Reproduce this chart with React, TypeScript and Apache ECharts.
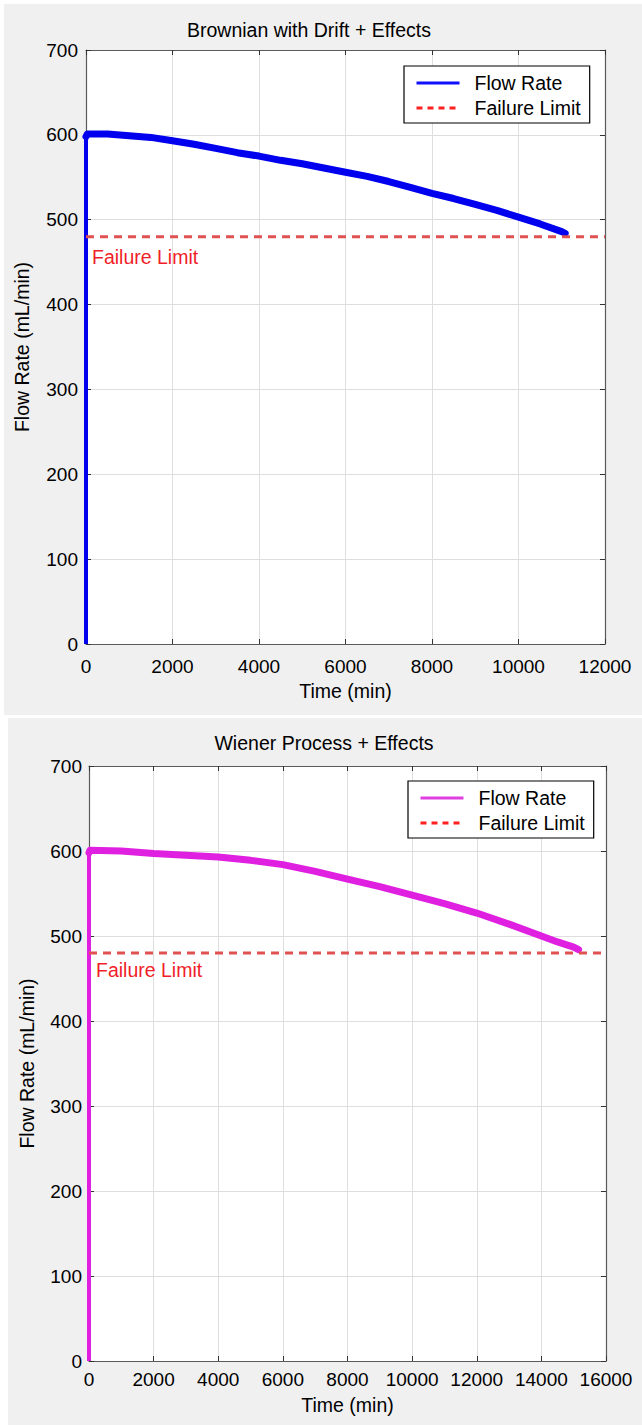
import React, { useEffect, useRef } from 'react';
import * as echarts from 'echarts';

// ---- data ----
const brownTitle = 'Brownian with Drift + Effects';
const wienerTitle = 'Wiener Process + Effects';
const brownTime = [0, 0, 30, 500, 1000, 1500, 2000, 2500, 3000, 3500, 4000, 4500, 5000, 5500, 6000, 6500, 7000, 7500, 8000, 8500, 9000, 9500, 10000, 10500, 11000, 11080];
const brownFlow = [0, 598, 601, 601, 599, 597, 593, 589, 584, 579, 575, 570, 566, 561, 556, 551, 545, 538, 531, 525, 518, 511, 503, 495, 486, 484];
const wienerTime = [0, 0, 30, 1000, 2000, 3000, 4000, 5000, 6000, 7000, 8000, 9000, 10000, 11000, 12000, 13000, 14000, 14500, 15000, 15150];
const wienerFlow = [0, 598, 601, 600, 597, 595, 593, 589, 584, 576, 567, 558, 548, 538, 527, 514, 500, 493, 487, 484];
const failureLimit = 480;
const brownXMax = 12000;
const wienerXMax = 16000;
const xInterval = 2000;
const yMax = 700;
const yInterval = 100;

const FONT = "'Liberation Sans', Arial, Helvetica, sans-serif";
const AXIS_COLOR = '#5a5a5a';
const GRID_COLOR = '#dedede';

function zip(a: number[], b: number[]) {
  return a.map((v, i) => [v, b[i]]);
}

export default function App() {
  const ref = useRef<HTMLDivElement>(null);

  useEffect(() => {
    document.body.style.margin = '0';
    const chart = echarts.init(ref.current!, null, { renderer: 'svg' });

    const panels = [
      { grid: { left: 86, top: 50, width: 519, height: 594 }, xMax: brownXMax, labelMargin: 13, yLabelMargin: 8, xNameGap: 37, yNameGap: 54 },
      { grid: { left: 89, top: 766, width: 517, height: 595 }, xMax: wienerXMax, labelMargin: 9, yLabelMargin: 7, xNameGap: 34, yNameGap: 52 },
    ];

    const plain = (v: number) => String(v);
    const xAxis: any[] = [];
    const yAxis: any[] = [];
    panels.forEach((p, gi) => {
      xAxis.push({
        type: 'value', gridIndex: gi, position: 'bottom', min: 0, max: p.xMax, interval: xInterval,
        name: 'Time (min)', nameLocation: 'middle', nameGap: p.xNameGap,
        nameTextStyle: { fontFamily: FONT, fontSize: 19.5, color: '#000' },
        axisLine: { show: true, onZero: false, lineStyle: { color: AXIS_COLOR, width: 1.2 } },
        axisTick: { show: true, inside: true, length: 5, lineStyle: { color: '#333' } },
        axisLabel: { fontFamily: FONT, fontSize: 19, color: '#000', margin: p.labelMargin, formatter: plain },
        splitLine: { show: true, lineStyle: { color: GRID_COLOR, width: 1 } },
      });
      xAxis.push({
        type: 'value', gridIndex: gi, position: 'top', min: 0, max: p.xMax, interval: xInterval,
        axisLine: { show: true, onZero: false, lineStyle: { color: AXIS_COLOR, width: 1.2 } },
        axisTick: { show: true, inside: true, length: 5, lineStyle: { color: '#333' } },
        axisLabel: { show: false },
        splitLine: { show: false },
      });
      yAxis.push({
        type: 'value', gridIndex: gi, position: 'left', min: 0, max: yMax, interval: yInterval,
        name: 'Flow Rate (mL/min)', nameLocation: 'middle', nameGap: p.yNameGap, nameRotate: 90,
        nameTextStyle: { fontFamily: FONT, fontSize: 19.5, color: '#000' },
        axisLine: { show: true, onZero: false, lineStyle: { color: AXIS_COLOR, width: 1.2 } },
        axisTick: { show: true, inside: true, length: 5, lineStyle: { color: '#333' } },
        axisLabel: { fontFamily: FONT, fontSize: 19, color: '#000', margin: p.yLabelMargin, formatter: plain },
        splitLine: { show: true, lineStyle: { color: GRID_COLOR, width: 1 } },
      });
      yAxis.push({
        type: 'value', gridIndex: gi, position: 'right', min: 0, max: yMax, interval: yInterval,
        axisLine: { show: true, onZero: false, lineStyle: { color: AXIS_COLOR, width: 1.2 } },
        axisTick: { show: true, inside: true, length: 5, lineStyle: { color: '#333' } },
        axisLabel: { show: false },
        splitLine: { show: false },
      });
    });

    const legendBase = {
      orient: 'vertical',
      backgroundColor: '#ffffff',
      borderColor: '#000000',
      borderWidth: 1.2,
      borderRadius: 0,
      padding: [7, 9, 5, 11],
      itemGap: 5,
      itemWidth: 43,
      itemHeight: 14,
      textStyle: { fontFamily: FONT, fontSize: 19.5, color: '#000', padding: [0, 0, 0, 10] },
    };
    const noSym = { opacity: 0, borderWidth: 0 };

    const option: any = {
      animation: false,
      backgroundColor: '#ffffff',
      graphic: [
        { type: 'rect', z: -10, silent: true, shape: { x: 4, y: 4, width: 638, height: 711 }, style: { fill: '#f0f0f0' } },
        { type: 'rect', z: -10, silent: true, shape: { x: 8, y: 718, width: 634, height: 707 }, style: { fill: '#f0f0f0' } },
        { type: 'text', x: 309, y: 30, style: { text: brownTitle, fontFamily: FONT, fontSize: 19.5, fill: '#000', textAlign: 'center', textVerticalAlign: 'middle' } },
        { type: 'text', x: 324, y: 743, style: { text: wienerTitle, fontFamily: FONT, fontSize: 19.5, fill: '#000', textAlign: 'center', textVerticalAlign: 'middle' } },
      ],
      grid: panels.map((p) => ({ ...p.grid, show: true, backgroundColor: '#ffffff', borderWidth: 0, containLabel: false })),
      xAxis,
      yAxis,
      legend: [
        {
          ...legendBase, left: 404, top: 66,
          data: [
            { name: 'Flow Rate', itemStyle: noSym, lineStyle: { width: 3, color: '#1010ff' } },
            { name: 'Failure Limit', itemStyle: noSym, lineStyle: { width: 3, color: '#ff2020', type: [6, 5] } },
          ],
        },
        {
          ...legendBase, left: 408, top: 781,
          formatter: (name: string) => name.replace('Wiener ', ''),
          data: [
            { name: 'Wiener Flow Rate', itemStyle: noSym, lineStyle: { width: 3, color: '#e040e0' } },
            { name: 'Wiener Failure Limit', itemStyle: noSym, lineStyle: { width: 3, color: '#ff2020', type: [6, 5] } },
          ],
        },
      ],
      series: [
        {
          name: 'Flow Rate', type: 'line', xAxisIndex: 0, yAxisIndex: 0, symbol: 'none', clip: true,
          data: zip(brownTime, brownFlow).slice(0, 2), color: '#0000ee',
          lineStyle: { width: 4, color: '#0000ee' }, z: 3,
        },
        {
          name: 'Flow Rate', type: 'line', xAxisIndex: 0, yAxisIndex: 0, symbol: 'none', clip: true,
          data: zip(brownTime, brownFlow).slice(1), color: '#0000ee',
          lineStyle: { width: 7, color: '#0000ee', join: 'round', cap: 'round' }, z: 3,
        },
        {
          name: 'Failure Limit', type: 'line', xAxisIndex: 0, yAxisIndex: 0, symbol: 'none',
          data: [[0, failureLimit], [brownXMax, failureLimit]], color: '#ff2020',
          lineStyle: { width: 3, color: '#e05252', type: [8, 6] }, z: 4,
        },
        {
          name: 'Wiener Flow Rate', type: 'line', xAxisIndex: 2, yAxisIndex: 2, symbol: 'none', clip: true,
          data: zip(wienerTime, wienerFlow).slice(0, 2), color: '#e020e0',
          lineStyle: { width: 4, color: '#e020e0' }, z: 3,
        },
        {
          name: 'Wiener Flow Rate', type: 'line', xAxisIndex: 2, yAxisIndex: 2, symbol: 'none', clip: true,
          data: zip(wienerTime, wienerFlow).slice(1), color: '#e020e0',
          lineStyle: { width: 7, color: '#e020e0', join: 'round', cap: 'round' }, z: 3,
        },
        {
          name: 'Wiener Failure Limit', type: 'line', xAxisIndex: 2, yAxisIndex: 2, symbol: 'none',
          data: [[0, failureLimit], [wienerXMax, failureLimit]], color: '#ff2020',
          lineStyle: { width: 3, color: '#e05252', type: [8, 6] }, z: 4,
        },
      ],
    };

    chart.setOption(option);

    // "Failure Limit" annotations placed relative to the limit line through the axes' scales
    const offsets = [[6, 20.5], [7, 17]];
    const labels = [0, 1].map((gi) => {
      const pt = chart.convertToPixel({ gridIndex: gi } as any, [0, failureLimit]) as number[];
      return {
        type: 'text',
        x: pt[0] + offsets[gi][0],
        y: pt[1] + offsets[gi][1],
        style: { text: 'Failure Limit', fontFamily: FONT, fontSize: 19.5, fill: '#f01e28', textAlign: 'left', textVerticalAlign: 'middle' },
        z: 10,
      };
    });
    chart.setOption({ graphic: [...option.graphic, ...labels] });

    return () => chart.dispose();
  }, []);

  return <div ref={ref} style={{ width: 642, height: 1425 }} />;
}
